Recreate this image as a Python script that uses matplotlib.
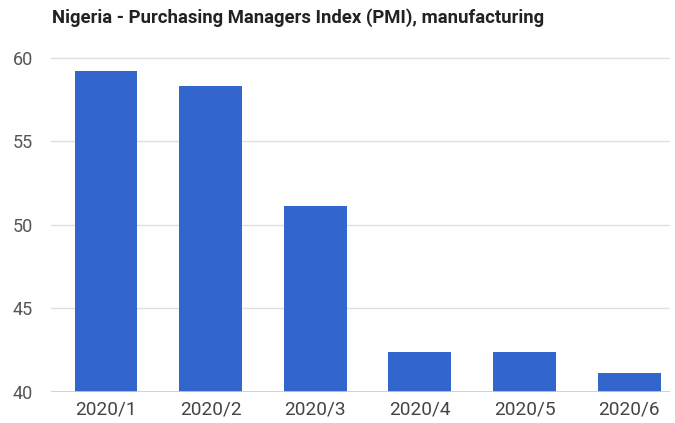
import matplotlib
matplotlib.use("Agg")
import matplotlib.pyplot as plt

months = ["2020/1", "2020/2", "2020/3", "2020/4", "2020/5", "2020/6"]
pmi = [59.2, 58.3, 51.1, 42.4, 42.4, 41.1]
y_ticks = [40, 45, 50, 55, 60]

plt.rcParams["font.family"] = ["Roboto", "DejaVu Sans"]

fig = plt.figure(figsize=(6.75, 4.23), dpi=100)
ax = fig.add_axes([51 / 675, 0.074, 619 / 675, 0.8086])

x = range(len(months))
ax.bar(x, pmi, width=0.6, color="#3366cc", zorder=2)

ax.set_xlim(-0.525, 5.39)
ax.set_ylim(40, 60.5)
ax.set_yticks(y_ticks)
ax.set_xticks(list(x))
ax.set_xticklabels(months)

ax.grid(axis="y", color="#e0e0e0", linewidth=1, zorder=0)
ax.axhline(40, color="#cccccc", linewidth=1.2, zorder=3)
for s in ax.spines.values():
    s.set_visible(False)
ax.tick_params(axis="both", length=0)
ax.tick_params(axis="y", pad=13, labelsize=13, labelcolor="#555555")
ax.tick_params(axis="x", pad=6, labelsize=13.7, labelcolor="#444444")

fig.text(52 / 675, 1 - 18 / 423, "Nigeria - Purchasing Managers Index (PMI), manufacturing",
         fontsize=13.3, fontweight="bold", color="#222222", va="center", ha="left")

fig.savefig("out.png", dpi=100)
